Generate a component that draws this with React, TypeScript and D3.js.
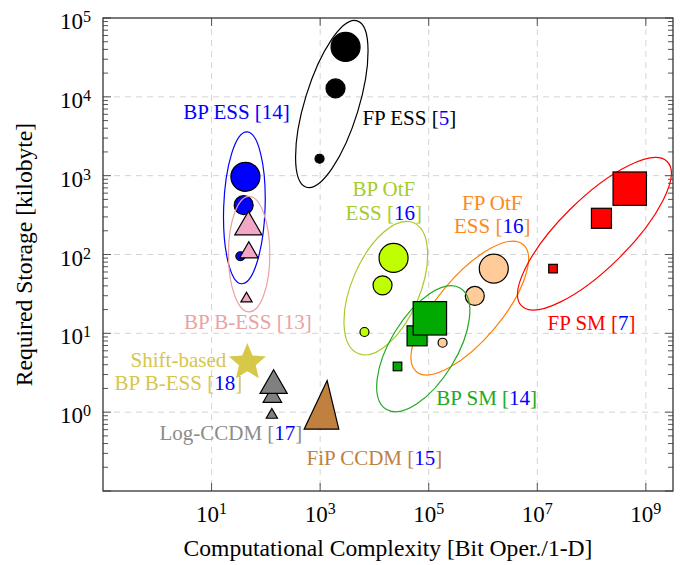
import React from 'react';
import * as d3 from 'd3';

// ---------- data ----------
const X_TICK_EXPS = [1, 3, 5, 7, 9];
const Y_TICK_EXPS = [0, 1, 2, 3, 4, 5];
const X_GRID_EXPS = [1, 3, 5, 7, 9];
const Y_GRID_EXPS = [0, 1, 2, 3, 4];

// [complexity, storage] ordered small -> large marker
const fpEss = [[975, 1640], [1920, 12800], [2940, 43000]];
const bpEss = [[34, 95], [39, 422], [42, 968]];
const bpBEss = [[44, 27.5], [48.6, 106], [47.6, 223]];
const bpOtfEss = [[6560, 10.4], [14100, 40.6], [22500, 90.6]];
const fpOtfEss = [[180000, 7.6], [706000, 29.8], [1580000, 66.2]];
const bpSm = [[26600, 3.8], [61000, 9.3], [105000, 15.5]];
const fpSm = [[1.95e7, 66.2], [1.52e8, 288], [5.05e8, 684]];
const shiftBEss = [[45.6, 4.26]];
const logCcdm = [[129, 0.92], [132, 1.56], [139, 2.18]];
const fipCcdm = [[507, 0.608], [2208, 0.608], [1346, 2.52]]; // triangle region vertices

// ellipse centres (data coords)
const ellipseCentres = {
  fpEss: [1640, 8110],
  bpEss: [40.2, 391],
  bpBEss: [49.2, 101],
  bpOtf: [16200, 37.4],
  fpOtf: [571000, 20.9],
  bpSm: [79400, 6.37],
  fpSm: [1.13e8, 183],
};

// label anchors (data coords) and texts
const BLUE = '#0000ff';
const labelTexts = {
  bpEss: [[['BP ESS [14]', BLUE]]],
  fpEss: [[['FP ESS [', '#000'], ['5', BLUE], [']', '#000']]],
  bpBEss: [[['BP B-ESS [13]', '#e9a3a3']]],
  bpOtf: [[['BP OtF', '#a5cc29']], [['ESS [', '#a5cc29'], ['16', BLUE], [']', '#a5cc29']]],
  fpOtf: [[['FP OtF', '#fb8a22']], [['ESS [', '#fb8a22'], ['16', BLUE], [']', '#fb8a22']]],
  bpSm: [[['BP SM [', '#22aa22'], ['14', BLUE], [']', '#22aa22']]],
  fpSm: [[['FP SM [', '#ff0000'], ['7', BLUE], [']', '#ff0000']]],
  shift: [[['Shift-based', '#d6c64c']], [['BP B-ESS [', '#d6c64c'], ['18', BLUE], [']', '#d6c64c']]],
  logCcdm: [[['Log-CCDM [', '#8c8c8c'], ['17', BLUE], [']', '#8c8c8c']]],
  fip: [[['FiP CCDM [', '#c08040'], ['15', BLUE], [']', '#c08040']]],
};
const labelAnchors = {
  bpEss: [28.9, 5180],
  fpEss: [43900, 4340],
  bpBEss: [46.6, 11.3],
  bpOtf: [14900, 550],
  fpOtf: [1.48e6, 372],
  bpSm: [1.17e6, 1.24],
  fpSm: [1.0e8, 11.1],
  shift: [2.45, 3.76],
  logCcdm: [22.7, 0.445],
  fip: [1.0e4, 0.214],
};

// ---------- styles ----------
const W = 686, H = 565;
const L = 103, R = 673, T = 18, B = 491;
const FONT = "'Liberation Serif', 'Times New Roman', Times, serif";

const ellipseStyle: Record<string, { a: number; b: number; angle: number; color: string }> = {
  fpEss: { a: 87, b: 27, angle: 17, color: '#000' },
  bpEss: { a: 76, b: 20.7, angle: 2, color: BLUE },
  bpBEss: { a: 57.8, b: 20.7, angle: 0, color: '#e9a3a3' },
  bpOtf: { a: 71, b: 34, angle: 23, color: '#a5cc29' },
  fpOtf: { a: 83, b: 32, angle: 40, color: '#ff8000' },
  bpSm: { a: 71, b: 33, angle: 31.5, color: '#22aa22' },
  fpSm: { a: 102.5, b: 34.5, angle: 45.3, color: '#ff0000' },
};

const CIRCLE_R = [4.5, 9.5, 14.5];
const SQUARE_H = [4.3, 10, 16.7];
const TRI_R = [6.5, 10.7, 15.7];

const xScale = d3.scaleLog().domain([1e-1, Math.pow(10, 9.5)]).range([L, R]);
const yScale = d3.scaleLog().domain([1e-1, 1e5]).range([B, T]);

function triPath(r: number) {
  const s = r * Math.sqrt(3) / 2;
  return `M0,${-r}L${s},${r / 2}L${-s},${r / 2}Z`;
}
function starPath(R0: number, ratio: number) {
  const pts: string[] = [];
  for (let i = 0; i < 10; i++) {
    const rr = i % 2 === 0 ? R0 : R0 * ratio;
    const ang = -Math.PI / 2 + (i * Math.PI) / 5;
    pts.push(`${rr * Math.cos(ang)},${rr * Math.sin(ang)}`);
  }
  return 'M' + pts.join('L') + 'Z';
}

type Series = { key: string; data: number[][]; shape: 'circle' | 'square' | 'tri'; fill: string; stroke: string };

const seriesList: Series[] = [
  { key: 'fpEss', data: fpEss, shape: 'circle', fill: '#000', stroke: '#000' },
  { key: 'bpEss', data: bpEss, shape: 'circle', fill: BLUE, stroke: '#000' },
  { key: 'bpBEss', data: bpBEss, shape: 'tri', fill: '#f2a7c6', stroke: '#000' },
  { key: 'bpOtf', data: bpOtfEss, shape: 'circle', fill: '#bfff00', stroke: '#000' },
  { key: 'fpOtf', data: fpOtfEss, shape: 'circle', fill: '#ffcc99', stroke: '#000' },
  { key: 'bpSm', data: bpSm, shape: 'square', fill: '#00aa00', stroke: '#000' },
  { key: 'fpSm', data: fpSm, shape: 'square', fill: '#ff0000', stroke: '#000' },
];

function Marker({ s, i, d }: { s: Series; i: number; d: number[] }) {
  const x = xScale(d[0]);
  const y = yScale(d[1]);
  if (s.shape === 'circle')
    return <circle cx={x} cy={y} r={CIRCLE_R[i]} fill={s.fill} stroke={s.stroke} strokeWidth={1.2} />;
  if (s.shape === 'square') {
    const h = SQUARE_H[i];
    return <rect x={x - h} y={y - h} width={2 * h} height={2 * h} fill={s.fill} stroke={s.stroke} strokeWidth={1.2} />;
  }
  return <path d={triPath(TRI_R[i])} transform={`translate(${x},${y})`} fill={s.fill} stroke={s.stroke} strokeWidth={1.2} strokeLinejoin="miter" />;
}

function Ellipse({ k }: { k: string }) {
  const c = (ellipseCentres as any)[k];
  const st = ellipseStyle[k];
  return (
    <ellipse
      cx={0}
      cy={0}
      rx={st.b}
      ry={st.a}
      transform={`translate(${xScale(c[0])},${yScale(c[1])}) rotate(${st.angle})`}
      fill="none"
      stroke={st.color}
      strokeWidth={1.2}
    />
  );
}

function Label({ k }: { k: string }) {
  const a = (labelAnchors as any)[k];
  const lines = (labelTexts as any)[k] as [string, string][][];
  const x = xScale(a[0]);
  const y = yScale(a[1]);
  return (
    <g>
      {lines.map((segs, li) => (
        <text key={li} x={x} y={y + li * 23.5} textAnchor="middle" fontSize={21} fontFamily={FONT}>
          {segs.map((sg, si) => (
            <tspan key={si} fill={sg[1]}>{sg[0]}</tspan>
          ))}
        </text>
      ))}
    </g>
  );
}

export default function App() {
  const minorY: number[] = [];
  for (let e = -1; e < 5; e++) for (let m = 2; m <= 9; m++) minorY.push(m * Math.pow(10, e));
  const majorY = d3.range(-1, 6).map((e) => Math.pow(10, e));
  const tickColor = '#555';
  const fipPts = fipCcdm.map((d) => `${xScale(d[0])},${yScale(d[1])}`).join(' ');
  const lc = logCcdm.map((d, i) => ({ d, i }));
  return (
    <svg width={W} height={H} style={{ position: 'absolute', left: 0, top: 0, background: '#fff' }} fontFamily={FONT}>
      <rect x={0} y={0} width={W} height={H} fill="#fff" />
      {/* grid */}
      {Y_GRID_EXPS.map((e) => (
        <line key={'gy' + e} x1={L} x2={R} y1={yScale(Math.pow(10, e))} y2={yScale(Math.pow(10, e))} stroke="#d4d4d4" strokeWidth={1} strokeDasharray="6,5" />
      ))}
      {X_GRID_EXPS.map((e) => (
        <line key={'gx' + e} y1={T} y2={B} x1={xScale(Math.pow(10, e))} x2={xScale(Math.pow(10, e))} stroke="#d4d4d4" strokeWidth={1} strokeDasharray="6,5" />
      ))}
      {/* ticks */}
      {minorY.map((v, i) => (
        <g key={'my' + i}>
          <line x1={L} x2={L + 5} y1={yScale(v)} y2={yScale(v)} stroke={tickColor} strokeWidth={1} />
          <line x1={R} x2={R - 5} y1={yScale(v)} y2={yScale(v)} stroke={tickColor} strokeWidth={1} />
        </g>
      ))}
      {majorY.map((v, i) => (
        <g key={'My' + i}>
          <line x1={L} x2={L + 8} y1={yScale(v)} y2={yScale(v)} stroke={tickColor} strokeWidth={1} />
          <line x1={R} x2={R - 8} y1={yScale(v)} y2={yScale(v)} stroke={tickColor} strokeWidth={1} />
        </g>
      ))}
      {X_TICK_EXPS.map((e) => (
        <g key={'tx' + e}>
          <line x1={xScale(Math.pow(10, e))} x2={xScale(Math.pow(10, e))} y1={B} y2={B - 8} stroke={tickColor} strokeWidth={1} />
          <line x1={xScale(Math.pow(10, e))} x2={xScale(Math.pow(10, e))} y1={T} y2={T + 8} stroke={tickColor} strokeWidth={1} />
        </g>
      ))}
      {/* series */}
      {seriesList.map((s) => (
        <g key={s.key}>
          <Ellipse k={s.key} />
          {s.data.map((d, i) => (
            <Marker key={i} s={s} i={i} d={d} />
          ))}
        </g>
      ))}
      {/* shift-based star */}
      {shiftBEss.map((d, i) => (
        <path key={'st' + i} d={starPath(19.5, 0.45)} transform={`translate(${xScale(d[0])},${yScale(d[1])})`} fill="#d8c84a" stroke="none" />
      ))}
      {/* Log-CCDM triangles: small, large drawn last */}
      {lc.map(({ d, i }) => (
        <path key={'lc' + i} d={triPath(TRI_R[i])} transform={`translate(${xScale(d[0])},${yScale(d[1])})`} fill="#808080" stroke="#000" strokeWidth={1.2} />
      ))}
      {/* FiP CCDM region */}
      <polygon points={fipPts} fill="#c08040" stroke="#000" strokeWidth={1.2} />
      {/* labels */}
      {Object.keys(labelTexts).map((k) => (
        <Label key={k} k={k} />
      ))}
      {/* frame */}
      <rect x={L} y={T} width={R - L} height={B - T} fill="none" stroke="#333" strokeWidth={1.3} />
      {/* tick labels */}
      {Y_TICK_EXPS.map((e) => (
        <text key={'yl' + e} x={91} y={yScale(Math.pow(10, e)) + 11} textAnchor="end" fontSize={23} fill="#000">
          10<tspan dy={-7} fontSize={16}>{e}</tspan>
        </text>
      ))}
      {X_TICK_EXPS.map((e) => (
        <text key={'xl' + e} x={xScale(Math.pow(10, e))} y={521.7} textAnchor="middle" fontSize={23} fill="#000">
          10<tspan dy={-8} fontSize={16}>{e}</tspan>
        </text>
      ))}
      {/* axis labels */}
      <text x={(L + R) / 2} y={556} textAnchor="middle" fontSize={23.6} fill="#000">
        Computational Complexity [Bit Oper./1-D]
      </text>
      <text transform={`translate(32,${(T + B) / 2}) rotate(-90)`} textAnchor="middle" fontSize={23.6} fill="#000">
        Required Storage [kilobyte]
      </text>
    </svg>
  );
}
